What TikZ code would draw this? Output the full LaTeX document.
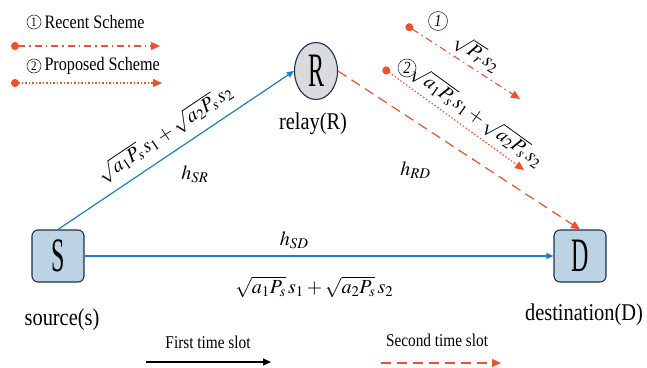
\documentclass[tikz,border=0pt]{standalone}
\usepackage{mathptmx}
\usepackage{fontspec}
\setmainfont{Liberation Serif}[FakeStretch=0.85]
\newfontfamily\LetterFont{Liberation Serif}[FakeStretch=0.5]
\usetikzlibrary{arrows.meta,positioning,shapes.geometric}
\definecolor{linkBlue}{HTML}{1F7EC6}
\definecolor{slotRed}{HTML}{F0502A}
\definecolor{boxFill}{HTML}{BBD3E3}
\definecolor{boxEdge}{HTML}{1F3050}
\definecolor{relayFill}{HTML}{DADBDD}
\newcommand{\LblFont}{\fontsize{24}{26}\selectfont}
\newcommand{\KeyFont}{\fontsize{19}{21}\selectfont}
\newcommand{\SlotFont}{\fontsize{18}{20}\selectfont}
\newcommand{\MathBig}{\fontsize{20}{22}\selectfont}
\tikzset{
  blue arrow/.style={
    -{Triangle[length=7pt,width=6pt]},
    line width=1.2pt, linkBlue
  },
  red dashed/.style={
    -{Triangle[length=9pt,width=8pt]},
    line width=1.2pt, slotRed, dash pattern=on 10pt off 6pt
  },
  red dashdot/.style={
    {Circle[length=8pt]}-{Triangle[length=9pt,width=8pt]},
    line width=1.1pt, slotRed, dash pattern=on 7pt off 4pt on 1.5pt off 4pt
  },
  red dotted/.style={
    {Circle[length=8pt]}-{Triangle[length=9pt,width=8pt]},
    line width=1.1pt, slotRed, dash pattern=on 1.5pt off 2pt
  },
  num ring/.style={
    circle, draw=black!80, line width=0.6pt, inner sep=0pt,
    minimum size=#1, font=\fontsize{13}{13}\selectfont
  },
}

\begin{document}
\begin{tikzpicture}[x=1pt,y=-1pt,
  terminal/.style={
    rectangle, draw=boxEdge, line width=1.1pt, rounded corners=6pt, fill=boxFill,
    minimum width=52pt, minimum height=52pt, inner sep=0pt,
    font=\LetterFont\fontsize{48}{48}\selectfont
  },
  relay/.style={
    ellipse, draw=boxEdge, line width=1.1pt, fill=relayFill,
    minimum width=43pt, minimum height=57pt, inner sep=0pt,
    font=\LetterFont\fontsize{48}{48}\selectfont
  },
  caption/.style={font=\LblFont, inner sep=1pt},
  eq/.style={font=\MathBig, text=black, inner sep=1pt}]

  \useasboundingbox (0,0) rectangle (647,367);

  % Nodes
  \node[terminal] (S) at (58,256) {S};
  \node[terminal] (D) at (580,256) {D};
  \node[relay] (R) at (316,71) {R};
  \node[caption] (Scap) at (62,320) {source(s)};
  \node[caption] (Rcap) at (313,124) {relay(R)};
  \node[caption] (Dcap) at (584,315) {destination(D)};

  % First time slot links
  \draw[blue arrow] (S.north) -- (R.west)
    node[eq, pos=0.5, sloped, above=8pt] {$\sqrt{a_1P_s}\,s_1+\sqrt{a_2P_s}\,s_2$}
    node[eq, pos=0.58, yshift=-37pt] {$h_{SR}$};
  \draw[blue arrow] (S.east) -- (D.west)
    node[eq, pos=0.447, yshift=16pt] {$h_{SD}$}
    node[eq, pos=0.49, yshift=-31pt] {$\sqrt{a_1P_s}\,s_1+\sqrt{a_2P_s}\,s_2$};

  % Second time slot link
  \draw[red dashed] (R.east) -- (D.north)
    node[eq, pos=0.32, yshift=-48pt] {$h_{RD}$};

  % Legend, top left
  \node[num ring=14pt] (k1) at (34,22) {1};
  \node[font=\KeyFont, inner sep=0pt, right=3pt of k1] (recent) {Recent Scheme};
  \coordinate (rsA) at (11,46);
  \coordinate (rsB) at (160,46);
  \draw[red dashdot] (rsA) -- (rsB);
  \node[num ring=14pt] (k2) at (34,66) {2};
  \node[font=\KeyFont, inner sep=0pt, right=3pt of k2] (proposed) {Proposed Scheme};
  \coordinate (psA) at (11,83);
  \coordinate (psB) at (162,83);
  \draw[red dotted] (psA) -- (psB);

  % Relay forwarding, top right
  \coordinate (rfA) at (406,25);
  \coordinate (rfB) at (520,99);
  \draw[red dashdot] (rfA) -- (rfB)
    node[eq, pos=0.55, sloped, above=3pt] {$\sqrt{P_r}\,s_2$};
  \node[num ring=19pt, font=\fontsize{17}{17}\selectfont\itshape] (one) at (438,21) {1};
  \coordinate (pfA) at (383,68);
  \coordinate (pfB) at (524,170);
  \draw[red dotted] (pfA) -- (pfB)
    node[eq, pos=0.6, sloped, above=4pt] {$\sqrt{a_1P_s}\,s_1+\sqrt{a_2P_s}\,s_2$};
  \node[num ring=18pt, font=\fontsize{17}{17}\selectfont\itshape] (two) at (407,68) {2};

  % Time slot key, bottom
  \node[font=\SlotFont, inner sep=0pt] (first) at (208,342) {First time slot};
  \coordinate (fsA) at (146,362);
  \coordinate (fsB) at (271,362);
  \draw[-{Triangle[length=8pt,width=7pt]}, line width=1.1pt, black] (fsA) -- (fsB);
  \node[font=\SlotFont, inner sep=0pt] (second) at (437,340) {Second time slot};
  \coordinate (ssA) at (381,363);
  \coordinate (ssB) at (501,363);
  \draw[red dashed] (ssA) -- (ssB);
\end{tikzpicture}
\end{document}
